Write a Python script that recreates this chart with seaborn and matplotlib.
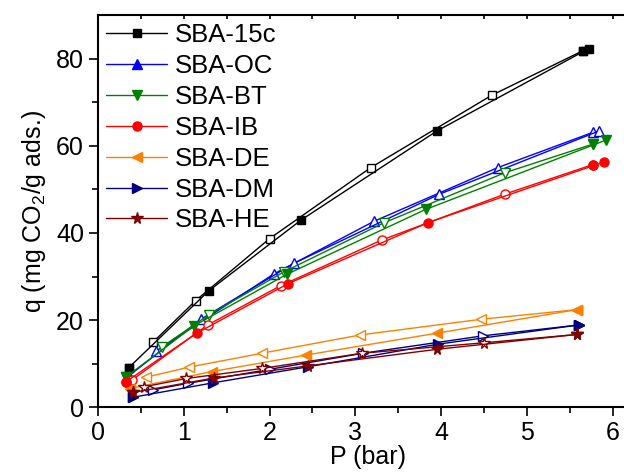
import seaborn as sns
import matplotlib.pyplot as plt
from matplotlib.lines import Line2D

# adsorption (filled) and desorption (open) branches
ads_15c_x = [0.36, 1.29, 2.37, 3.95, 5.72]
ads_15c_y = [9.1, 26.7, 43.0, 63.4, 82.3]
des_15c_x = [5.65, 4.59, 3.18, 2.00, 1.14, 0.64]
des_15c_y = [81.8, 71.6, 55.0, 38.7, 24.5, 14.9]

ads_oc_x = [0.36, 1.20, 2.28, 3.98, 5.84]
ads_oc_y = [7.2, 20.2, 33.0, 48.9, 63.4]
des_oc_x = [5.77, 4.66, 3.22, 2.05, 0.68]
des_oc_y = [63.1, 55.0, 42.7, 30.6, 12.9]

ads_bt_x = [0.33, 1.12, 2.20, 3.82, 5.92]
ads_bt_y = [7.0, 18.7, 30.5, 45.4, 61.3]
des_bt_x = [5.77, 4.74, 3.33, 2.17, 1.29, 0.75]
des_bt_y = [60.4, 53.8, 42.3, 31.1, 21.2, 13.9]

ads_ib_x = [0.33, 1.15, 2.22, 3.85, 5.90]
ads_ib_y = [5.9, 17.0, 28.4, 42.4, 56.3]
des_ib_x = [5.77, 4.74, 3.31, 2.13, 1.28, 0.40]
des_ib_y = [55.7, 48.9, 38.4, 27.9, 18.9, 6.3]

ads_de_x = [0.37, 1.33, 2.43, 3.95, 5.58]
ads_de_y = [4.3, 8.2, 12.0, 17.0, 22.4]
des_de_x = [5.58, 4.47, 3.06, 1.91, 1.06, 0.56]
des_de_y = [22.4, 20.2, 16.6, 12.4, 9.2, 6.9]

ads_dm_x = [0.41, 1.34, 2.45, 3.97, 5.61]
ads_dm_y = [2.3, 5.6, 9.3, 14.5, 18.9]
des_dm_x = [5.61, 4.49, 3.09, 2.00, 1.05, 0.64]
des_dm_y = [18.9, 16.4, 12.4, 8.7, 5.5, 4.0]

ads_he_x = [0.41, 1.35, 2.45, 3.95, 5.58]
ads_he_y = [3.4, 6.7, 9.5, 13.3, 16.7]
des_he_x = [5.58, 4.50, 3.08, 1.91, 1.03, 0.54]
des_he_y = [16.7, 14.8, 12.4, 8.9, 6.6, 4.7]

names = ["SBA-15c", "SBA-OC", "SBA-BT", "SBA-IB", "SBA-DE", "SBA-DM", "SBA-HE"]
colors = ["black", "#0000ff", "#008000", "#ff0000", "#ff8000", "#000080", "#800000"]
markers = ["s", "^", "v", "o", "<", ">", "*"]
msizes = [6, 7.5, 7.5, 6.5, 7.5, 7.5, 8.5]
ads = [(ads_15c_x, ads_15c_y), (ads_oc_x, ads_oc_y), (ads_bt_x, ads_bt_y), (ads_ib_x, ads_ib_y),
       (ads_de_x, ads_de_y), (ads_dm_x, ads_dm_y), (ads_he_x, ads_he_y)]
des = [(des_15c_x, des_15c_y), (des_oc_x, des_oc_y), (des_bt_x, des_bt_y), (des_ib_x, des_ib_y),
       (des_de_x, des_de_y), (des_dm_x, des_dm_y), (des_he_x, des_he_y)]

sns.set_style("ticks")
plt.rcParams['font.family'] = ['Liberation Sans', 'DejaVu Sans']
plt.rcParams['mathtext.fontset'] = 'custom'
plt.rcParams['mathtext.rm'] = 'Liberation Sans'
plt.rcParams['mathtext.it'] = 'Liberation Sans:italic'
for k in ['text.color', 'axes.labelcolor', 'xtick.color', 'ytick.color', 'axes.edgecolor']:
    plt.rcParams[k] = 'black'

fig = plt.figure(figsize=(6.24, 4.73), dpi=100)
ax = fig.add_axes([0.157, 0.139, 0.866, 0.829])

handles = []
for name, c, mk, ms, (axx, ayy), (dxx, dyy) in zip(names, colors, markers, msizes, ads, des):
    sns.lineplot(x=dxx, y=dyy, sort=False, estimator=None, color=c, lw=1, marker=mk,
                 ms=ms, mfc="white", mec=c, mew=1, ax=ax)
    # SBA-OC shows open symbols on both branches
    face = "white" if name == "SBA-OC" else c
    sns.lineplot(x=axx, y=ayy, sort=False, estimator=None, color=c, lw=1, marker=mk,
                 ms=ms, mfc=face, mec=c, mew=1, ax=ax)
    ax.plot(axx[:1], ayy[:1], ls="none", marker=mk, ms=ms, color=c, mec=c)
    if name != "SBA-OC":
        ax.plot(dxx[:1], dyy[:1], ls="none", marker=mk, ms=ms, color=c, mec=c)
    handles.append(Line2D([], [], color=c, lw=1, marker=mk, ms=ms, mfc=c, mec=c))

ax.legend(handles, names, loc="upper left", bbox_to_anchor=(0.0, 1.0), frameon=False,
          fontsize=18.5, handlelength=2.4, handletextpad=0.3, labelspacing=0.27,
          borderaxespad=0.1, borderpad=0.2)

ax.set_xlim(0, 6.3)
ax.set_ylim(0, 90)
ax.set_xticks([0, 1, 2, 3, 4, 5, 6])
ax.set_xticks([0.5, 1.5, 2.5, 3.5, 4.5, 5.5], minor=True)
ax.set_yticks([0, 20, 40, 60, 80])
ax.set_yticks([10, 30, 50, 70], minor=True)
ax.tick_params(axis="both", which="major", labelsize=18, length=6.5, width=1.2, direction="out")
ax.tick_params(axis="both", which="minor", length=4, width=1.2, direction="out")
ax.xaxis.set_tick_params(which="both", top=True)
for t in ax.xaxis.get_major_ticks() + ax.xaxis.get_minor_ticks():
    t.tick2line.set_markersize(3)
    t.tick2line.set_marker(3)  # inward on top
for s in ax.spines.values():
    s.set_linewidth(1.5)
ax.spines["right"].set_visible(False)

ax.set_xlabel("P (bar)", fontsize=18, labelpad=0)
ax.set_ylabel("q (mg CO$_2$/g ads.)", fontsize=18, labelpad=6)

fig.savefig("out.png", dpi=100)
